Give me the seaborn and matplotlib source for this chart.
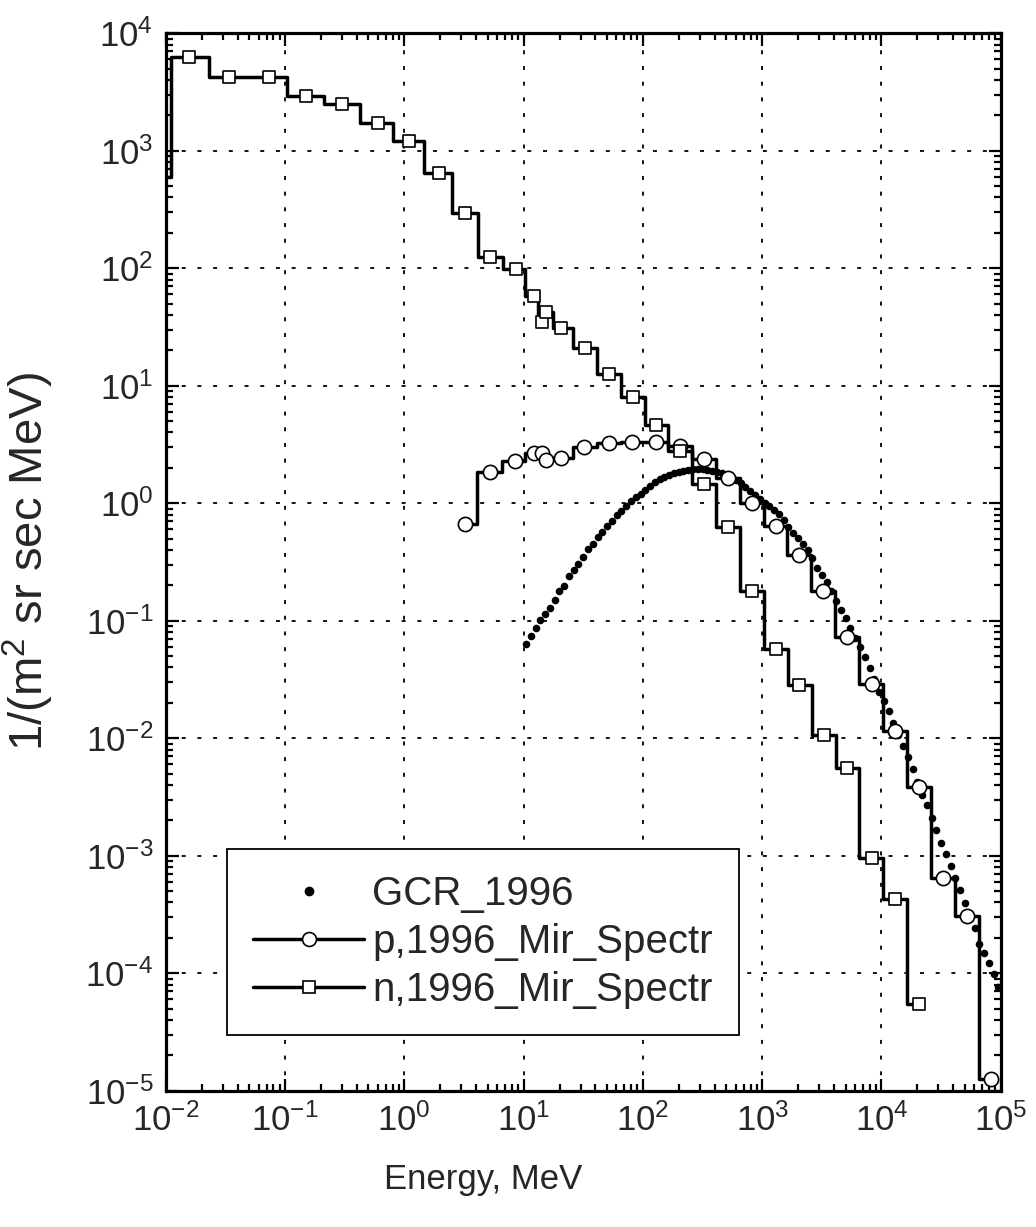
import numpy as np
import matplotlib
matplotlib.use("Agg")
import matplotlib.pyplot as plt
import seaborn as sns
from matplotlib.lines import Line2D
from matplotlib.ticker import LogLocator, FixedLocator, FixedFormatter, NullFormatter

# ---------------- data ----------------
n_energy = [0.0078, 0.0157, 0.0337, 0.073, 0.149, 0.30, 0.60, 1.09, 1.95, 3.25, 5.2,
            8.6, 12.3, 14.3, 15.3, 20.6, 32.7, 51.6, 82, 130, 205, 327, 516, 822,
            1306, 2046, 3296, 5165, 8270, 13060, 20750]
n_flux = [600, 6300, 4200, 4200, 2900, 2500, 1730, 1200, 650, 296, 124,
          98, 58, 35, 42, 31, 21, 12.6, 8.05, 4.6, 2.76, 1.45, 0.63, 0.18,
          0.0574, 0.0282, 0.0106, 0.0056, 9.5e-4, 4.3e-4, 5.5e-5]

p_energy = [3.23, 5.2, 8.5, 12.3, 14.2, 15.3, 20.5, 32.3, 51.7, 81.5, 128.8, 205,
            327, 516, 816, 1297, 2033, 3250, 5165, 8270, 12980, 20750, 32600,
            51800, 83000]
p_flux = [0.665, 1.83, 2.27, 2.67, 2.69, 2.33, 2.44, 2.99, 3.27, 3.32, 3.32, 3.07,
          2.37, 1.64, 1.01, 0.644, 0.36, 0.178, 0.0727, 0.0288, 0.0115, 0.00385,
          6.5e-4, 3.05e-4, 1.25e-5]

gcr_log_energy = [1.02, 1.06, 1.10, 1.14, 1.18, 1.22, 1.26, 1.30, 1.34, 1.38,
                  1.42, 1.46, 1.50, 1.54, 1.58, 1.62, 1.66, 1.70, 1.74, 1.78,
                  1.82, 1.86, 1.90, 1.94, 1.98, 2.02, 2.06, 2.10, 2.14, 2.18,
                  2.22, 2.26, 2.30, 2.34, 2.38, 2.42, 2.46, 2.50, 2.54, 2.58,
                  2.62, 2.66, 2.70, 2.74, 2.78, 2.82, 2.86, 2.90, 2.94, 2.98,
                  3.02, 3.06, 3.10, 3.14, 3.18, 3.22, 3.26, 3.30, 3.34, 3.38,
                  3.42, 3.46, 3.50, 3.54, 3.58, 3.62, 3.66, 3.70, 3.74, 3.78,
                  3.82, 3.86, 3.90, 3.94, 3.98, 4.02, 4.06, 4.10, 4.14, 4.18,
                  4.22, 4.26, 4.30, 4.34, 4.38, 4.42, 4.46, 4.50, 4.54, 4.58,
                  4.62, 4.66, 4.70, 4.74, 4.78, 4.82, 4.86, 4.90, 4.94, 4.98]
gcr_log_flux = [-1.200, -1.130, -1.063, -0.992, -0.945, -0.895, -0.828, -0.744, -0.702, -0.618,
                -0.572, -0.516, -0.455, -0.394, -0.346, -0.287, -0.246, -0.197, -0.150, -0.104,
                -0.066, -0.028, 0.015, 0.049, 0.081, 0.116, 0.149, 0.177, 0.202, 0.224,
                0.240, 0.256, 0.266, 0.277, 0.282, 0.288, 0.289, 0.288, 0.284, 0.278,
                0.266, 0.253, 0.238, 0.218, 0.196, 0.170, 0.140, 0.105, 0.071, 0.034,
                0.005, -0.028, -0.055, -0.090, -0.140, -0.200, -0.250, -0.300, -0.350, -0.400,
                -0.466, -0.550, -0.607, -0.668, -0.750, -0.830, -0.906, -0.980, -1.060, -1.145,
                -1.227, -1.310, -1.400, -1.500, -1.607, -1.686, -1.772, -1.870, -1.970, -2.070,
                -2.160, -2.264, -2.370, -2.480, -2.570, -2.680, -2.783, -2.888, -2.985, -3.087,
                -3.188, -3.290, -3.400, -3.510, -3.615, -3.748, -3.830, -3.910, -4.010, -4.120]

x_exponents = [-2, -1, 0, 1, 2, 3, 4, 5]
y_exponents = [-5, -4, -3, -2, -1, 0, 1, 2, 3, 4]
legend_labels = ["GCR_1996", "p,1996_Mir_Spectr", "n,1996_Mir_Spectr"]
x_label = "Energy, MeV"
y_label = r"1/(m$^{2}$ sr sec MeV)"

# ---------------- style ----------------
sns.set_theme(style="ticks")
plt.rcParams["font.family"] = ["Liberation Sans", "DejaVu Sans"]
plt.rcParams["mathtext.fontset"] = "custom"
plt.rcParams["mathtext.rm"] = "Liberation Sans"
plt.rcParams["mathtext.it"] = "Liberation Sans"
plt.rcParams["mathtext.default"] = "regular"


def step_path(e, f):
    e = np.asarray(e, float)
    f = np.asarray(f, float)
    le = np.log10(e)
    mids = 10 ** ((le[:-1] + le[1:]) / 2)
    xs, ys = [e[0]], [f[0]]
    for i, m in enumerate(mids):
        xs += [m, m]
        ys += [f[i], f[i + 1]]
    xs.append(e[-1])
    ys.append(f[-1])
    return np.array(xs), np.array(ys)


W, H = 1036, 1227
fig = plt.figure(figsize=(W / 100, H / 100), dpi=100)
ax = fig.add_axes([165.7 / W, 1 - 1090.7 / H, (1000.8 - 165.7) / W, (1090.7 - 33.2) / H])
ax.set_xscale("log")
ax.set_yscale("log")

LW = 2.5
nx, ny = step_path(n_energy, n_flux)
sns.lineplot(x=nx, y=ny, sort=False, estimator=None, color="black", linewidth=LW, ax=ax, zorder=2)
px, py = step_path(p_energy, p_flux)
sns.lineplot(x=px, y=py, sort=False, estimator=None, color="black", linewidth=LW, ax=ax, zorder=2)

gcr_energy = 10 ** np.array(gcr_log_energy)
gcr_flux = 10 ** np.array(gcr_log_flux)
sns.scatterplot(x=gcr_energy, y=gcr_flux, marker="o", s=30, color="black", linewidth=0, ax=ax, zorder=4)

sns.scatterplot(x=p_energy, y=p_flux, marker="o", s=105, color="white", edgecolor="black",
                linewidth=1.2, ax=ax, zorder=5)
sns.scatterplot(x=n_energy, y=n_flux, marker="s", s=72, color="white", edgecolor="black",
                linewidth=1.2, ax=ax, zorder=5)

ax.set_xlim(1e-2, 1e5)
ax.set_ylim(1e-5, 1e4)

ax.xaxis.set_major_locator(FixedLocator([10.0 ** k for k in x_exponents]))
ax.xaxis.set_major_formatter(FixedFormatter([r"$10^{%d}$" % k for k in x_exponents]))
ax.yaxis.set_major_locator(FixedLocator([10.0 ** k for k in y_exponents]))
ax.yaxis.set_major_formatter(FixedFormatter([r"$10^{%d}$" % k for k in y_exponents]))
ax.xaxis.set_minor_locator(LogLocator(base=10, subs=np.arange(2, 10), numticks=100))
ax.yaxis.set_minor_locator(LogLocator(base=10, subs=np.arange(2, 10), numticks=100))
ax.xaxis.set_minor_formatter(NullFormatter())
ax.yaxis.set_minor_formatter(NullFormatter())

ax.tick_params(which="both", direction="in", top=True, right=True, width=1.6, color="black")
ax.tick_params(which="major", length=9, labelsize=25, pad=9)
ax.tick_params(which="minor", length=5)
for sp in ax.spines.values():
    sp.set_linewidth(2.3)
    sp.set_color("black")

ax.grid(True, which="major", color="black", linestyle=(0, (2.2, 6.5)), linewidth=1.3)
ax.grid(False, which="minor")

ax.set_xlabel(x_label, fontsize=25)
ax.xaxis.set_label_coords(0.38, -0.068)
ax.set_ylabel(y_label, fontsize=34)
ax.yaxis.set_label_coords(-0.131, 0.5)

handles = [
    Line2D([], [], marker="o", linestyle="none", color="black", markersize=6),
    Line2D([], [], marker="o", linestyle="-", color="black", linewidth=LW,
           markerfacecolor="white", markeredgecolor="black", markersize=10, markeredgewidth=1.2),
    Line2D([], [], marker="s", linestyle="-", color="black", linewidth=LW,
           markerfacecolor="white", markeredgecolor="black", markersize=8.5, markeredgewidth=1.2),
]
leg = ax.legend(handles, legend_labels, loc="upper left", bbox_to_anchor=(0.0734, 0.2286),
                borderaxespad=0, fontsize=29, handlelength=2.75, handletextpad=0.2,
                labelspacing=0.25, borderpad=0.65, frameon=True, fancybox=False,
                framealpha=1, edgecolor="black")
leg.get_frame().set_linewidth(1.3)
leg.set_zorder(10)

fig.savefig("out.png", dpi=100)
